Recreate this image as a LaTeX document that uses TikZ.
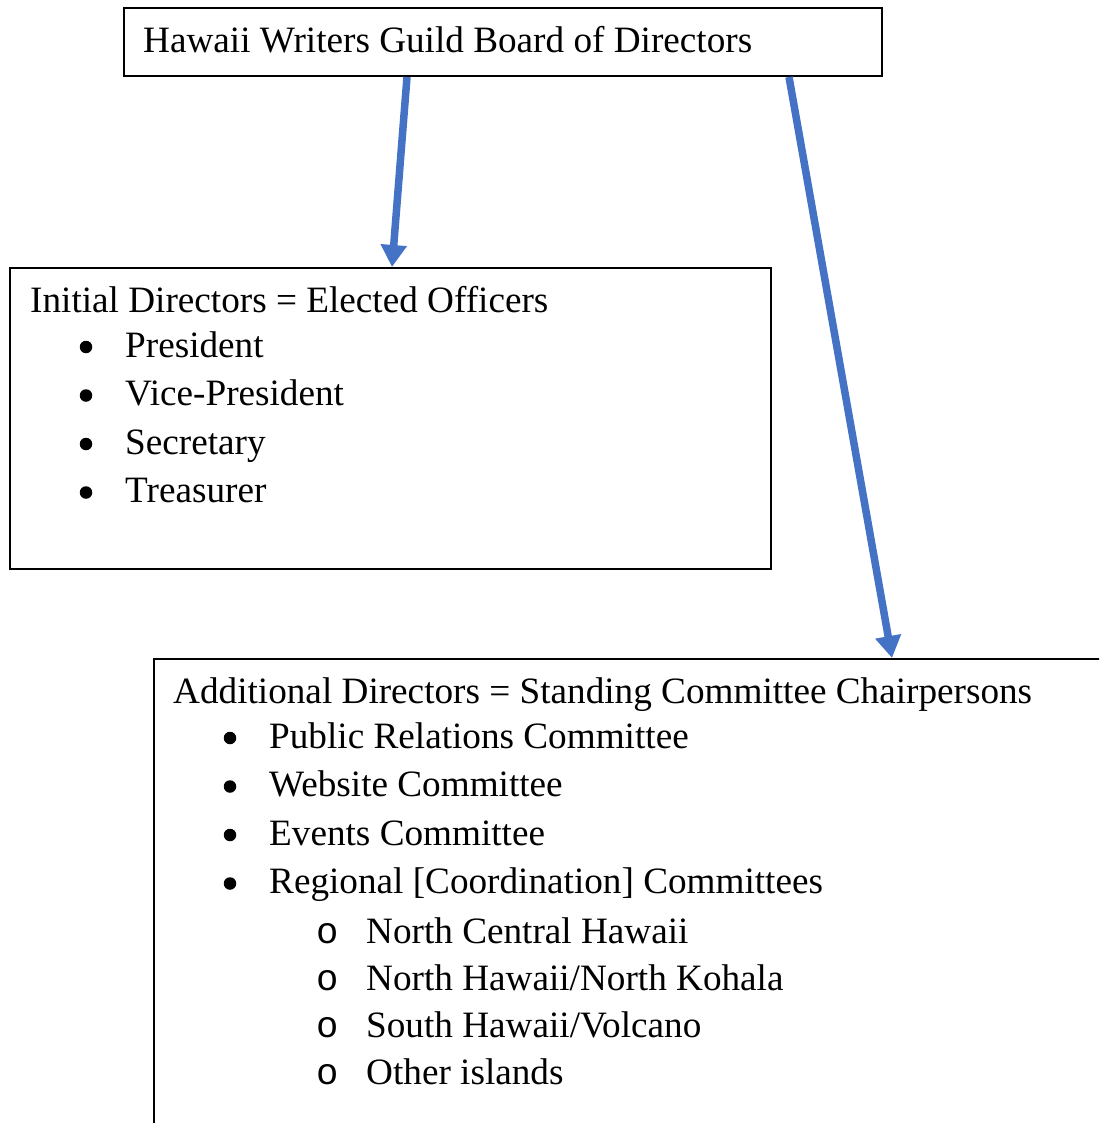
\documentclass[tikz,border=0pt]{standalone}
\usepackage{fontspec}
\setmainfont{Liberation Serif}
\newfontfamily\subfont{Liberation Mono}
\usepackage{tikz}
\usetikzlibrary{positioning, arrows.meta, calc}
\definecolor{wblue}{HTML}{4472C4}

\begin{document}
\begin{tikzpicture}[x=1pt,y=-1pt,
    box/.style={draw=black,line width=2pt,inner sep=0pt,anchor=north west},
    txt/.style={anchor=base west,inner sep=0pt,font=\fontsize{37.2}{44}\selectfont},
    dot/.style={circle,fill=black,inner sep=0pt,minimum size=12.5pt},
    subdot/.style={anchor=base west,inner sep=0pt,font=\fontsize{37.2}{44}\subfont},
    link/.style={draw=wblue,line width=7.5pt,-{Triangle[width=25pt,length=22pt]}}]
  \clip (0,0) rectangle (1099,1123);
  \def\lh{48.5}
  \def\sh{47}

  % boxes
  \node[box,minimum width=758pt,minimum height=67.5pt] (board) at (123,7.5) {};
  \node[box,minimum width=761.5pt,minimum height=301pt] (officers) at (8.5,267) {};
  \node[box,minimum width=1000pt,minimum height=600pt] (chairs) at (153,658) {};

  % board
  \node[txt] (boardtxt) at (143,53) {Hawaii Writers Guild Board of Directors};

  % elected officers
  \node[txt] (offhead) at (30,312) {Initial Directors = Elected Officers};
  \node[dot] (b1) at (86,347+0*\lh) {};
  \node[dot] (b2) at (86,347+1*\lh) {};
  \node[dot] (b3) at (86,347+2*\lh) {};
  \node[dot] (b4) at (86,347+3*\lh) {};
  \node[txt] (pres) at (125,357+0*\lh) {President};
  \node[txt] (vpres) at (125,357+1*\lh) {Vice-President};
  \node[txt] (secr) at (125,357+2*\lh) {Secretary};
  \node[txt] (treas) at (125,357+3*\lh) {Treasurer};

  % standing committee chairs
  \node[txt] (chairhead) at (173,703) {Additional Directors = Standing Committee Chairpersons};
  \node[dot] (c1) at (230,738+0*\lh) {};
  \node[dot] (c2) at (230,738+1*\lh) {};
  \node[dot] (c3) at (230,738+2*\lh) {};
  \node[dot] (c4) at (230,738+3*\lh) {};
  \node[txt] (pr) at (269,748+0*\lh) {Public Relations Committee};
  \node[txt] (web) at (269,748+1*\lh) {Website Committee};
  \node[txt] (events) at (269,748+2*\lh) {Events Committee};
  \node[txt] (region) at (269,748+3*\lh) {Regional [Coordination] Committees};
  \node[subdot] (o1) at (316,943+0*\sh) {o};
  \node[subdot] (o2) at (316,943+1*\sh) {o};
  \node[subdot] (o3) at (316,943+2*\sh) {o};
  \node[subdot] (o4) at (316,943+3*\sh) {o};
  \node[txt] (ncentral) at (366,943+0*\sh) {North Central Hawaii};
  \node[txt] (nkohala) at (366,943+1*\sh) {North Hawaii/North Kohala};
  \node[txt] (volcano) at (366,943+2*\sh) {South Hawaii/Volcano};
  \node[txt] (islands) at (366,943+3*\sh) {Other islands};

  % arrows
  \draw[link] ([xshift=284pt]board.south west) -- ([xshift=383.5pt]officers.north west);
  \draw[link] ([xshift=666pt]board.south west) -- ([xshift=739pt]chairs.north west);
\end{tikzpicture}
\end{document}
